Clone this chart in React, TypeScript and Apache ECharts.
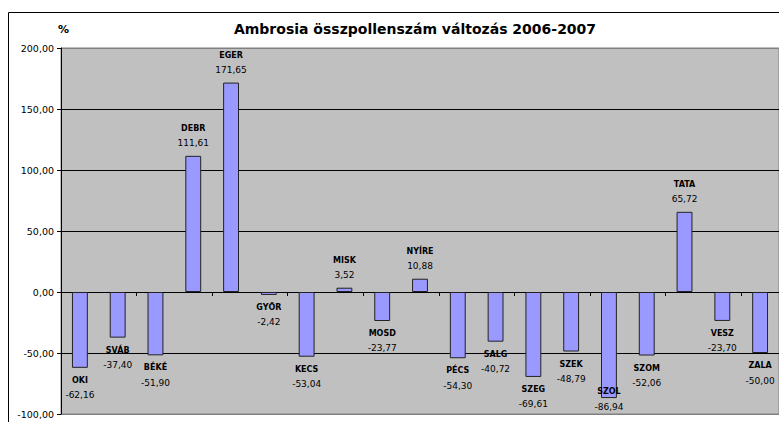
import React, { useEffect, useRef } from "react";
import * as echarts from "echarts";

const categories = ["OKI", "SVÁB", "BÉKÉ", "DEBR", "EGER", "GYŐR", "KECS", "MISK", "MOSD", "NYÍRE", "PÉCS", "SALG", "SZEG", "SZEK", "SZOL", "SZOM", "TATA", "VESZ", "ZALA"];
const values = [-62.16, -37.4, -51.9, 111.61, 171.65, -2.42, -53.04, 3.52, -23.77, 10.88, -54.3, -40.72, -69.61, -48.79, -86.94, -52.06, 65.72, -23.7, -50.0];
const titleText = "Ambrosia összpollenszám változás 2006-2007";
const unitText = "%";

const FONT = '"Comic Sans MS", "DejaVu Sans", sans-serif';
const fmt = (v: number) => v.toFixed(2).replace(".", ",");

export default function App() {
  const ref = useRef<HTMLDivElement>(null);
  useEffect(() => {
    document.documentElement.style.overflow = "hidden";
    document.body.style.overflow = "hidden";
    if (!ref.current) return;
    const chart = echarts.init(ref.current, null, { renderer: "svg" });
    const H = 422;
    const labelLimit = H - 11;
    chart.setOption({
      animation: false,
      backgroundColor: "#ffffff",
      graphic: [
        {
          type: "rect",
          shape: { x: 8.5, y: 12.5, width: 900, height: 600 },
          style: { fill: "none", stroke: "#000", lineWidth: 1 },
          silent: true,
          z: -1,
        },
        {
          type: "text",
          x: 58,
          y: 29,
          style: { text: unitText, font: `bold 11px ${FONT}`, fill: "#000", textVerticalAlign: "middle" },
        },
        {
          type: "text",
          x: 415,
          y: 29,
          style: { text: titleText, font: `bold 14px ${FONT}`, fill: "#000", textAlign: "center", textVerticalAlign: "middle" },
        },
      ],
      grid: {
        left: 61,
        right: 0,
        top: 48,
        bottom: 8,
        show: true,
        backgroundColor: "#C0C0C0",
        borderColor: "#808080",
        borderWidth: 1,
      },
      xAxis: {
        type: "category",
        data: categories,
        axisLine: { show: true, onZero: true, lineStyle: { color: "#000", width: 1 } },
        axisTick: { show: true, length: 4, lineStyle: { color: "#000" } },
        axisLabel: { show: false },
        splitLine: { show: false },
      },
      yAxis: {
        type: "value",
        min: -100,
        max: 200,
        interval: 50,
        axisLine: { show: true, lineStyle: { color: "#000" } },
        axisTick: { show: true, length: 4, lineStyle: { color: "#000" } },
        axisLabel: { formatter: (v: number) => fmt(v), fontFamily: FONT, fontSize: 9.5, color: "#000", margin: 7 },
        splitLine: {
          show: true,
          lineStyle: { color: ["#808080", "#000", "#000", "#000", "#000", "#000", "#808080"], width: 1 },
        },
      },
      labelLayout: (p: any) => {
        const r = p.labelRect;
        const over = r.y + r.height - labelLimit;
        return over > 0 ? { dy: -over } : {};
      },
      series: [
        {
          type: "bar",
          barWidth: "42%",
          data: values.map((v, i) => ({
            value: v,
            label: {
              show: true,
              position: v >= 0 ? "top" : "bottom",
              distance: 5,
              formatter: `{n|${categories[i]}}\n{v|${fmt(v)}}`,
              rich: {
                n: { fontFamily: FONT, fontSize: 8, fontWeight: "bold", color: "#000", lineHeight: 15 },
                v: { fontFamily: FONT, fontSize: 9, color: "#000", lineHeight: 15 },
              },
            },
          })),
          itemStyle: { color: "#9999FF", borderColor: "#222", borderWidth: 1 },
        },
      ],
    });
    return () => chart.dispose();
  }, []);
  return <div ref={ref} style={{ position: "fixed", left: 0, top: 0, width: 779, height: 422 }} />;
}
